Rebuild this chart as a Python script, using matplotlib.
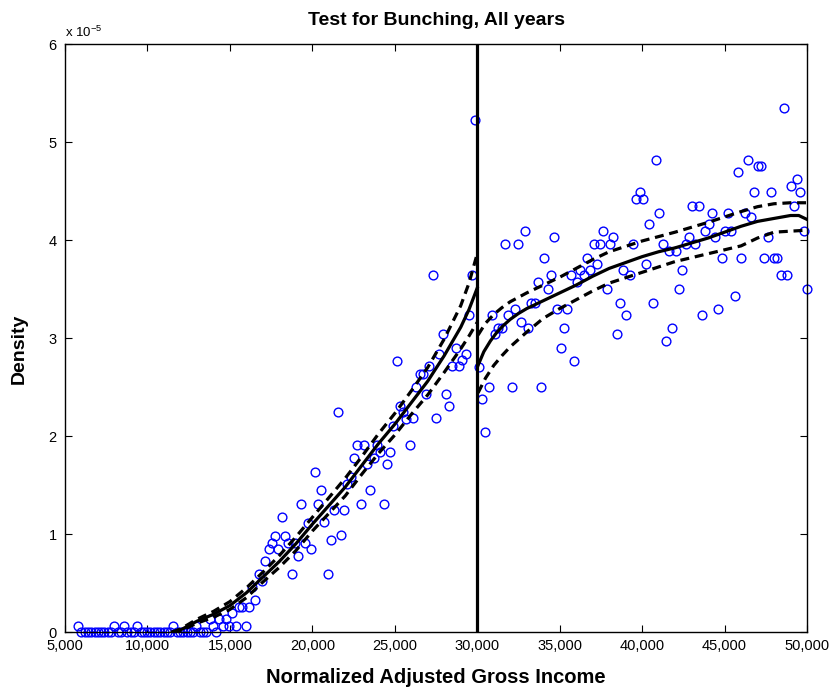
import numpy as np
import matplotlib
matplotlib.use('Agg')
import matplotlib.pyplot as plt
from matplotlib.ticker import FuncFormatter

plt.rcParams['font.family'] = ['Liberation Sans', 'DejaVu Sans']
plt.rcParams['mathtext.default'] = 'regular'

# binned density (units of 1e-5), bins from 5,800 to 50,000
agi_bins = np.linspace(5800, 50000, 223)
density = [
    # 5,800 - 13,600
    0.065, 0, 0, 0, 0, 0, 0, 0, 0, 0, 0, 0.065, 0, 0, 0.065, 0, 0, 0, 0.065,
    0, 0, 0, 0, 0, 0, 0, 0, 0, 0, 0.065, 0, 0, 0, 0, 0, 0, 0.065, 0, 0, 0,
    # 13,800 - 20,200
    0.13, 0.065, 0, 0.13, 0.065, 0.13, 0.065, 0.195, 0.065, 0.26, 0.26, 0.065,
    0.26, 0.46, 0.33, 0.59, 0.52, 0.72, 0.85, 0.91, 0.98, 0.85, 1.17, 0.98,
    0.91, 0.59, 0.91, 0.78, 1.31, 0.91, 1.11, 0.85, 1.63,
    # 20,400 - 26,000
    1.31, 1.45, 1.12, 0.59, 0.94, 1.245, 2.24, 0.99, 1.245, 1.51, 1.58, 1.78,
    1.91, 1.31, 1.91, 1.71, 1.45, 1.78, 1.91, 1.84, 1.31, 1.71, 1.84, 2.105,
    2.77, 2.31, 2.24, 2.17, 1.91,
    # 26,200 - 30,000
    2.18, 2.50, 2.63, 2.63, 2.43, 2.71, 3.64, 2.18, 2.84, 3.04, 2.43, 2.31,
    2.71, 2.90, 2.71, 2.78, 2.84, 3.23, 3.64, 5.22,
    # right of the kink
    2.70, 2.38, 2.04, 2.50, 3.23, 3.04, 3.10, 3.10, 3.96, 3.23, 2.50, 3.30,
    3.96, 3.16, 4.09, 3.10, 3.36, 3.36, 3.57, 2.50, 3.82,
    3.50, 3.64, 4.03, 3.30, 2.90, 3.10, 3.30, 3.64, 2.77, 3.57, 3.69, 3.64,
    3.82, 3.69, 3.96, 3.755, 3.96, 4.09, 3.50, 3.96, 4.03, 3.04, 3.36, 3.69,
    3.23, 3.64, 3.96, 4.42, 4.49, 4.42, 3.755, 4.16, 3.36, 4.82, 4.28, 3.96,
    2.97, 3.89, 3.10, 3.89, 3.50, 3.69, 3.96, 4.03, 4.35, 3.96, 4.35, 3.23,
    4.09, 4.16, 4.28, 4.03, 3.30, 3.82, 4.09, 4.28, 4.09, 3.43, 4.69, 3.82,
    4.28, 4.82, 4.23, 4.49, 4.755, 4.755, 3.82, 4.03, 4.49, 3.82, 3.82, 3.64,
    5.35, 3.64, 4.55, 4.35, 4.62, 4.49, 4.09, 3.50,
]

# fitted density below the threshold, with confidence band
fit_x_left = [11500, 12000, 13000, 14000, 15000, 16000, 17000, 18000, 19000,
              20000, 21000, 22000, 23000, 24000, 25000, 26000, 27000, 28000,
              29000, 29500, 30000]
fit_left = [0.0, 0.02, 0.11, 0.18, 0.27, 0.40, 0.56, 0.72, 0.90, 1.10, 1.29,
            1.48, 1.70, 1.92, 2.12, 2.34, 2.56, 2.82, 3.11, 3.29, 3.51]
upper_left = [0.0, 0.03, 0.13, 0.21, 0.31, 0.45, 0.61, 0.78, 0.97, 1.17, 1.37,
              1.57, 1.79, 2.02, 2.23, 2.46, 2.70, 2.99, 3.33, 3.56, 3.86]
lower_left = [0.0, 0.01, 0.09, 0.15, 0.23, 0.35, 0.51, 0.66, 0.83, 1.03, 1.21,
              1.39, 1.61, 1.82, 2.01, 2.22, 2.42, 2.65, 2.89, 3.02, 3.16]

# fitted density above the threshold
fit_x_right = [30050, 30400, 30800, 31200, 31600, 32000, 32500, 33000, 34000,
               35000, 36000, 37000, 38000, 39000, 40000, 41000, 42000, 43000,
               44000, 45000, 46000, 47000, 48000, 49000, 49500, 50000]
fit_right = [2.72, 2.86, 2.97, 3.06, 3.13, 3.19, 3.25, 3.30, 3.38, 3.46, 3.54,
             3.63, 3.71, 3.77, 3.83, 3.88, 3.92, 3.97, 4.02, 4.08, 4.14, 4.19,
             4.22, 4.25, 4.25, 4.21]
band_x_right = [30050, 30500, 31000, 31500, 32000, 33000, 34000, 35000, 36000,
                37000, 38000, 40000, 42000, 44000, 46000, 47000, 48000, 49000,
                50000]
upper_right = [3.03, 3.15, 3.24, 3.31, 3.37, 3.46, 3.54, 3.62, 3.71, 3.80, 3.88,
               3.99, 4.08, 4.18, 4.29, 4.34, 4.37, 4.38, 4.38]
lower_right = [2.44, 2.59, 2.72, 2.82, 2.91, 3.06, 3.20, 3.30, 3.39, 3.48, 3.56,
               3.67, 3.78, 3.86, 3.94, 4.02, 4.08, 4.09, 4.10]

threshold = 30000

fig = plt.figure(figsize=(8.32, 6.92), dpi=100, facecolor='w')
ax = fig.add_axes([65 / 832, 60 / 692, 742 / 832, 588 / 692])

ax.plot(agi_bins, density, 'o', mfc='none', mec=(0, 0, 1), ms=6.3, mew=1.0,
        clip_on=False, zorder=2)

dash = (0, (2.8, 1.8))
ax.plot(fit_x_left, fit_left, color='k', lw=2.3, zorder=3)
ax.plot(fit_x_left, upper_left, color='k', lw=2.3, ls=dash, zorder=3)
ax.plot(fit_x_left, lower_left, color='k', lw=2.3, ls=dash, zorder=3)
ax.plot(fit_x_right, fit_right, color='k', lw=2.3, zorder=3)
ax.plot(band_x_right, upper_right, color='k', lw=2.3, ls=dash, zorder=3)
ax.plot(band_x_right, lower_right, color='k', lw=2.3, ls=dash, zorder=3)
ax.axvline(threshold, color='k', lw=2.3, zorder=4)

ax.set_xlim(5000, 50000)
ax.set_ylim(0, 6)
ax.set_xticks(np.arange(5000, 50001, 5000))
ax.set_yticks(np.arange(0, 7, 1))
ax.xaxis.set_major_formatter(FuncFormatter(lambda v, p: '{:,}'.format(int(v))))
ax.tick_params(direction='in', top=True, right=True, length=5, width=0.8,
               labelsize=10.5)
ax.tick_params(axis='x', pad=5)
ax.tick_params(axis='y', pad=6)
for s in ax.spines.values():
    s.set_linewidth(1.0)

ax.text(0, 1.006, 'x 10$^{-5}$', transform=ax.transAxes, fontsize=9.5,
        ha='left', va='bottom')

ax.set_title('Test for Bunching, All years', fontsize=14, fontweight='bold',
             pad=14)
ax.set_xlabel('Normalized Adjusted Gross Income', fontsize=14.5,
              fontweight='bold')
ax.set_ylabel('Density', fontsize=14, fontweight='bold')
ax.xaxis.set_label_coords(0.5, -0.061)
ax.yaxis.set_label_coords(-0.05, 0.481)

fig.savefig('out.png', dpi=100)
